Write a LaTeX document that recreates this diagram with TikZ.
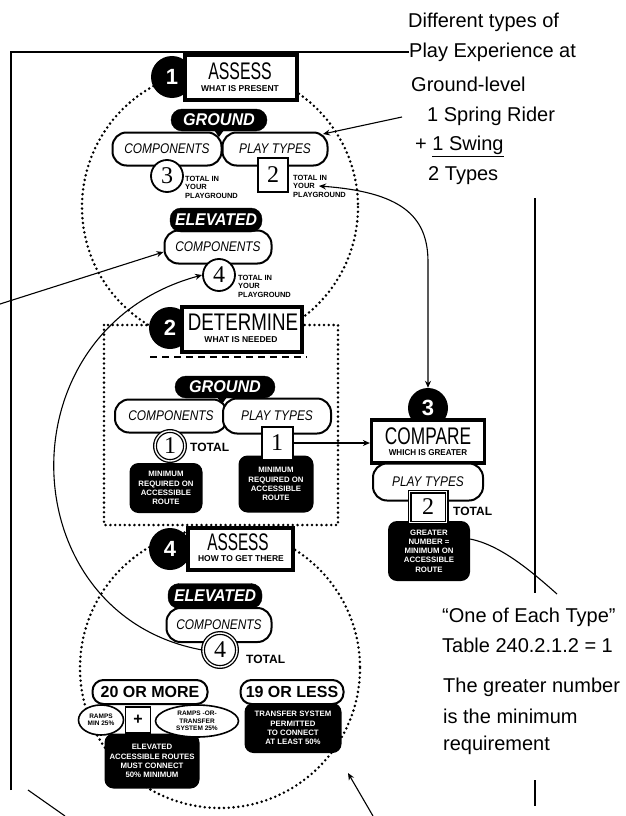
\documentclass[tikz,border=0pt]{standalone}
\usepackage{graphicx}
\usepackage{fontspec}
\setmainfont{Liberation Sans}
\newfontfamily\serifnum{Liberation Serif}
\usetikzlibrary{arrows.meta,shapes.geometric}
\newcommand\sqz[2]{\scalebox{#1}[1]{#2}}

\tikzset{
  dotline/.style={line width=2.8pt, dash pattern=on 0pt off 4.8pt, line cap=round},
  conn/.style={line width=1.1pt},
  arr/.style={conn, -{Stealth[length=7pt,width=6pt]}},
  whitepill/.style={draw=black, fill=white, line width=2pt, rounded corners=14pt, inner sep=0pt,
    font=\fontsize{14}{14}\selectfont\itshape},
  blackpill/.style={draw=black, fill=black, rounded corners=11pt, inner sep=0pt, text=white,
    font=\fontsize{17}{17}\selectfont\bfseries\itshape},
  blob/.style={fill=black, rounded corners=9pt, inner sep=0pt, text=white, align=center,
    font=\fontsize{7.8}{9.2}\selectfont\bfseries},
  numcirc/.style={circle, draw=black, fill=white, line width=1.8pt, inner sep=0pt,
    font=\serifnum\fontsize{24}{24}\selectfont},
  numsq/.style={rectangle, draw=black, fill=white, line width=2pt, inner sep=0pt,
    font=\serifnum\fontsize{24}{24}\selectfont},
  badgedot/.style={circle, fill=black, inner sep=0pt, minimum size=42pt, text=white,
    font=\fontsize{22}{22}\selectfont\bfseries},
  badgebox/.style={rectangle, draw=black, fill=white, line width=3.2pt, inner sep=0pt},
  bigword/.style={inner sep=0pt, font=\fontsize{24}{24}\selectfont},
  smallword/.style={inner sep=0pt, font=\fontsize{8.5}{8.5}\selectfont\bfseries},
  tinynote/.style={inner sep=0pt, anchor=west, align=left, font=\fontsize{7.5}{8.5}\selectfont\bfseries},
  totalword/.style={inner sep=0pt, anchor=west, font=\fontsize{12}{12}\selectfont\bfseries},
  pillbold/.style={draw=black, fill=white, line width=2pt, rounded corners=11pt, inner sep=0pt,
    font=\fontsize{16}{16}\selectfont\bfseries},
  ovalbox/.style={ellipse, draw=black, fill=white, line width=1.6pt, inner sep=0pt, align=center,
    font=\fontsize{6.5}{7.4}\selectfont\bfseries},
  plusbox/.style={rectangle, draw=black, fill=white, line width=1.4pt, inner sep=0pt,
    font=\fontsize{16}{16}\selectfont\bfseries},
  note/.style={inner sep=0pt, anchor=west, font=\fontsize{20}{20}\selectfont},
  notch/.style={fill=black}
}

\begin{document}
\begin{tikzpicture}[x=1pt,y=-1pt]
\useasboundingbox (0,0) rectangle (626,816);
\fill[white] (0,0) rectangle (626,816);

% dotted groupings of the three stages
\draw[dotline] (220,207) circle[radius=138];
\draw[dotline] (104,325) rectangle (338,525);
\draw[dotline] (220,668) circle[radius=140];

% ---------- step 1: assess what is present ----------
\node[badgedot] (b1dot) at (172,77) {1};
\node[badgebox, minimum width=112pt, minimum height=45pt] (b1box) at (241,77.5) {};
\node[bigword] (b1word) at (240,71) {\sqz{0.66}{ASSESS}};
\node[smallword] (b1sub) at (240,89) {WHAT IS PRESENT};

\node[whitepill, minimum width=109pt, minimum height=33pt] (g1comp) at (167,149) {\sqz{0.85}{COMPONENTS}};
\node[whitepill, minimum width=105pt, minimum height=33pt] (g1play) at (275,149) {\sqz{0.85}{PLAY TYPES}};
\node[blackpill, minimum width=96pt, minimum height=22pt] (g1head) at (219,120) {\sqz{0.95}{GROUND}};
\fill[notch] (214,130) -- (224,130) -- (219,137) -- cycle;
\node[numcirc, minimum size=32pt] (n3) at (167,176) {3};
\node[numsq, minimum width=30pt, minimum height=34pt] (n2) at (273,175) {2};
\node[tinynote] (n3note) at (185,187) {TOTAL IN\\YOUR\\PLAYGROUND};
\node[tinynote] (n2note) at (293,186) {TOTAL IN\\YOUR\\PLAYGROUND};

\node[whitepill, minimum width=107pt, minimum height=33pt] (e1comp) at (218,247) {\sqz{0.85}{COMPONENTS}};
\node[blackpill, minimum width=92pt, minimum height=24pt] (e1head) at (216,220) {\sqz{0.93}{ELEVATED}};
\node[numcirc, minimum size=32pt] (n4a) at (219,275) {4};
\node[tinynote] (n4note) at (238,286) {TOTAL IN\\YOUR\\PLAYGROUND};

% ---------- step 2: determine what is needed ----------
\node[badgedot] (b2dot) at (170,328) {2};
\node[badgebox, minimum width=120pt, minimum height=45pt] (b2box) at (242,329.5) {};
\node[bigword] (b2word) at (243,322) {\sqz{0.78}{DETERMINE}};
\node[smallword] (b2sub) at (241,340) {WHAT IS NEEDED};
\coordinate (dashL) at (150,357);
\coordinate (dashR) at (307,357);
\draw[line width=1.2pt, dash pattern=on 7pt off 5pt] (dashL) -- (dashR);

\node[whitepill, minimum width=112pt, minimum height=33pt] (g2comp) at (171,416) {\sqz{0.85}{COMPONENTS}};
\node[whitepill, minimum width=108pt, minimum height=35pt] (g2play) at (277,416) {\sqz{0.85}{PLAY TYPES}};
\node[blackpill, minimum width=100pt, minimum height=22pt] (g2head) at (225,387) {\sqz{0.95}{GROUND}};
\fill[notch] (217,397) -- (227,397) -- (222,404) -- cycle;
\node[blob, minimum width=73pt, minimum height=50pt] (m2a) at (166,488) {MINIMUM\\REQUIRED ON\\ACCESSIBLE\\ROUTE};
\node[blob, minimum width=75pt, minimum height=57pt] (m2b) at (276,484) {MINIMUM\\REQUIRED ON\\ACCESSIBLE\\ROUTE};
\node[numcirc, double, double distance=1.4pt, line width=1.3pt, minimum size=30pt] (n1a) at (170,446) {1};
\node[totalword] (tot1) at (190,447) {TOTAL};
\node[numsq, minimum width=31pt, minimum height=33pt] (n1b) at (277,443) {1};

% ---------- step 3: compare which is greater ----------
\node[badgedot, minimum size=40pt] (b3dot) at (428,408) {3};
\node[badgebox, minimum width=113pt, minimum height=43pt] (b3box) at (428,441.5) {};
\node[bigword] (b3word) at (428,436) {\sqz{0.72}{COMPARE}};
\node[smallword] (b3sub) at (428,453) {\sqz{0.95}{WHICH IS GREATER}};
\node[whitepill, minimum width=110pt, minimum height=37pt] (c3play) at (428,482) {\sqz{0.85}{PLAY TYPES}};
\node[blob, minimum width=82pt, minimum height=60pt] (m3) at (429,551) {GREATER\\NUMBER =\\MINIMUM ON\\ACCESSIBLE\\ROUTE};
\node[numsq, double, double distance=1.4pt, line width=1.3pt, minimum width=37pt, minimum height=31pt] (n2c) at (428,507) {2};
\node[totalword] (tot3) at (453,511) {TOTAL};

% ---------- step 4: assess how to get there ----------
\node[badgedot] (b4dot) at (170,549) {4};
\node[badgebox, minimum width=105pt, minimum height=42pt] (b4box) at (240.5,549) {};
\node[bigword] (b4word) at (238,542) {\sqz{0.64}{ASSESS}};
\node[smallword] (b4sub) at (241,559) {HOW TO GET THERE};

\node[whitepill, minimum width=105pt, minimum height=34pt] (e4comp) at (219,625) {\sqz{0.85}{COMPONENTS}};
\node[blackpill, minimum width=94pt, minimum height=25pt] (e4head) at (215,596) {\sqz{0.93}{ELEVATED}};
\node[numcirc, double, double distance=1.4pt, line width=1.3pt, minimum size=34pt] (n4b) at (220,650) {4};
\node[totalword] (tot4) at (246,659) {TOTAL};

\node[blob, minimum width=95pt, minimum height=55pt] (m4a) at (152,761) {ELEVATED\\ACCESSIBLE ROUTES\\MUST CONNECT\\50\% MINIMUM};
\node[blob, minimum width=97pt, minimum height=50pt] (m4b) at (293,728) {TRANSFER SYSTEM\\PERMITTED\\TO CONNECT\\AT LEAST 50\%};
\node[pillbold, minimum width=115pt, minimum height=24pt] (p20) at (150,692) {20 OR MORE};
\node[pillbold, minimum width=103pt, minimum height=24pt] (p19) at (292,692) {19 OR LESS};
\node[ovalbox, minimum width=45pt, minimum height=30pt] (r1) at (101,720) {RAMPS\\MIN 25\%};
\node[plusbox, minimum width=25pt, minimum height=26pt] (plus) at (138,720) {+};
\node[ovalbox, minimum width=83pt, minimum height=32pt] (r2) at (197,721) {RAMPS -OR-\\TRANSFER\\SYSTEM 25\%};

% ---------- margin notes ----------
\node[note] (t1) at (408,22) {Different types of};
\node[note] (t2) at (409,52) {Play Experience at};
\node[note] (t3) at (411,84) {Ground-level};
\node[note] (t4) at (427,116) {1 Spring Rider};
\node[note] (t5) at (415,146) {+ \underline{1 Swing}};
\node[note] (t6) at (428,176) {2 Types};

\node[note] (t7) at (442,617) {``One of Each Type''};
\node[note] (t8) at (442,645) {Table 240.2.1.2 = 1};
\node[note] (t9) at (443,687) {The greater number};
\node[note] (t10) at (443,716) {is the minimum};
\node[note] (t11) at (443,745) {requirement};

% ---------- connectors ----------
\coordinate (frameBot) at (11,790);
\coordinate (frameTop) at (11,52);
\draw[conn] (frameBot) -- (frameTop) -- (t2.west);

\coordinate (springEnd) at (402,117);
\coordinate (playIn) at (323,134);
\draw[arr] (springEnd) -- (playIn);

\coordinate (yourTip) at (319,186);
\draw[conn, {Stealth[length=7pt,width=6pt]}-{Stealth[length=7pt,width=6pt]}]
  (yourTip) .. controls (400,192) and (428,215) .. (428,262) -- (b3dot.north);

\draw[arr] (n1b.east) -- (n1b.east -| b3box.west);

\coordinate (leftIn) at (0,304);
\draw[arr] (leftIn) -- ([yshift=-5pt]e1comp.west);

\draw[arr] (n4b.west) .. controls (10,615) and (0,330) .. (n4a.west);

\coordinate (typeEnd) at (557,594);
\draw[conn] ([yshift=12pt]m3.east) .. controls (500,545) and (530,570) .. (typeEnd);

\coordinate (rTop) at (535,198);
\coordinate (rBot) at (535,593);
\draw[conn] (rTop) -- (rBot);
\coordinate (rTop2) at (535,780);
\coordinate (rBot2) at (535,806);
\draw[conn] (rTop2) -- (rBot2);

\coordinate (brA) at (373,816);
\coordinate (brB) at (348,773);
\draw[arr] (brA) -- (brB);

\coordinate (blA) at (28,790);
\coordinate (blB) at (65,816);
\draw[conn] (blA) -- (blB);
\end{tikzpicture}
\end{document}
